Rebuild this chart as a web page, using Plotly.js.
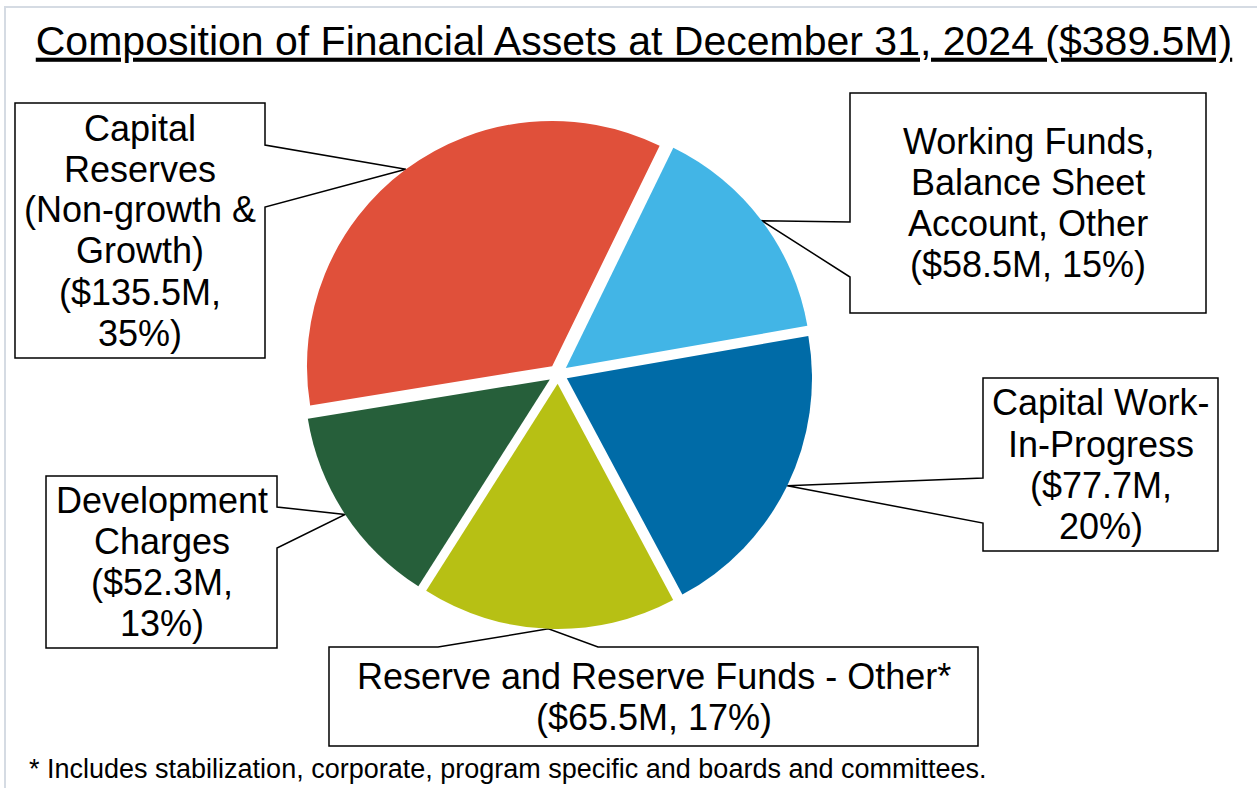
<!DOCTYPE html>
<html>
<head>
<meta charset="utf-8">
<script src="https://cdn.plot.ly/plotly-3.0.1.min.js"></script>
<style>html,body{margin:0;padding:0;background:#fff;}#chart{width:1257px;height:788px;}</style>
</head>
<body>
<div id="chart"></div>
<script>
// ---- data ----
const categories = [
  'Working Funds, Balance Sheet Account, Other',
  'Capital Work-In-Progress',
  'Reserve and Reserve Funds - Other*',
  'Development Charges',
  'Capital Reserves (Non-growth & Growth)'
];
// label text as shown in each callout (line breaks as in the reference)
const labelLines = [
  ['Working Funds,', 'Balance Sheet', 'Account, Other'],
  ['Capital Work-', 'In-Progress'],
  ['Reserve and Reserve Funds - Other*'],
  ['Development', 'Charges'],
  ['Capital', 'Reserves', '(Non-growth &', 'Growth)']
];
const valueBreak = [false, true, false, true, true]; // value and percent on separate lines
const valuesM = [58.5, 77.7, 65.5, 52.3, 135.5];
const colors = ['#42B5E6', '#006BA7', '#B7C014', '#265F3A', '#E0503A'];
const titleText = 'Composition of Financial Assets at December 31, 2024 ($389.5M)';
const footnote = '* Includes stabilization, corporate, program specific and boards and committees.';

// ---- layout constants ----
const W = 1257, H = 788;
const FONT = 'Liberation Sans, Arial, Helvetica, sans-serif';
const LABEL_SIZE = 36;
const LINE_STEP = 41;
const pieBox = {x0: 303, x1: 813, y0: 119, y1: 629}; // pixel box of pie domain
const PULL = 0.04;
const ROT = 26;
// callout boxes in pixels: side where the pointer attaches, and the two attach coordinates
const boxes = [
  {x0: 850, y0: 93,  x1: 1206, y1: 313, side: 'left',  a1: 222, a2: 277},
  {x0: 983, y0: 378, x1: 1218, y1: 551, side: 'left',  a1: 478, a2: 523},
  {x0: 329, y0: 647, x1: 978,  y1: 746, side: 'top',   a1: 438, a2: 598},
  {x0: 46,  y0: 476, x1: 277,  y1: 648, side: 'right', a1: 507, a2: 548},
  {x0: 15,  y0: 103, x1: 265,  y1: 358, side: 'right', a1: 145, a2: 207}
];

const total = valuesM.reduce((a, b) => a + b, 0);
const px = x => x / W;
const py = y => 1 - y / H;

// pie geometry, matching Plotly's pie sizing
const cx = (pieBox.x0 + pieBox.x1) / 2;
const cy = (pieBox.y0 + pieBox.y1) / 2;
const R = Math.min(pieBox.x1 - pieBox.x0, pieBox.y1 - pieBox.y0) / (2 + 2 * PULL);

const shapes = [];
const annotations = [];
let acc = 0;
valuesM.forEach((v, i) => {
  const mid = (ROT + (acc + v / 2) / total * 360) * Math.PI / 180;
  acc += v;
  const rr = R * (1 + PULL);
  const tx = cx + rr * Math.sin(mid);
  const ty = cy - rr * Math.cos(mid);
  const b = boxes[i];
  let pts;
  if (b.side === 'left') {
    pts = [[b.x0, b.y0], [b.x1, b.y0], [b.x1, b.y1], [b.x0, b.y1], [b.x0, b.a2], [tx, ty], [b.x0, b.a1]];
  } else if (b.side === 'right') {
    pts = [[b.x0, b.y0], [b.x1, b.y0], [b.x1, b.a1], [tx, ty], [b.x1, b.a2], [b.x1, b.y1], [b.x0, b.y1]];
  } else {
    pts = [[b.x0, b.y0], [b.a1, b.y0], [tx, ty], [b.a2, b.y0], [b.x1, b.y0], [b.x1, b.y1], [b.x0, b.y1]];
  }
  const path = pts.map((p, k) => (k ? 'L' : 'M') + px(p[0]).toFixed(5) + ',' + py(p[1]).toFixed(5)).join(' ') + ' Z';
  shapes.push({type: 'path', xref: 'paper', yref: 'paper', path: path, layer: 'below',
    line: {color: '#000', width: 1.5}, fillcolor: '#fff'});

  const pct = Math.round(v / total * 100);
  const valLines = valueBreak[i]
    ? ['($' + v.toFixed(1) + 'M,', pct + '%)']
    : ['($' + v.toFixed(1) + 'M, ' + pct + '%)'];
  const lines = labelLines[i].concat(valLines);
  const xc = (b.x0 + b.x1) / 2, yc = (b.y0 + b.y1) / 2;
  lines.forEach((ln, k) => {
    annotations.push({
      xref: 'paper', yref: 'paper',
      x: px(xc), y: py(yc + (k - (lines.length - 1) / 2) * LINE_STEP),
      xanchor: 'center', yanchor: 'middle', showarrow: false, align: 'center',
      text: ln,
      font: {family: FONT, size: LABEL_SIZE, color: '#000'}
    });
  });
});

annotations.push({
  xref: 'paper', yref: 'paper', x: px(27), y: py(769), xanchor: 'left', yanchor: 'middle',
  showarrow: false, text: footnote, font: {family: FONT, size: 27, color: '#000'}
});

// outer light frame
shapes.push({type: 'rect', xref: 'paper', yref: 'paper', x0: px(5), x1: px(1270), y0: py(7), y1: py(800),
  line: {color: '#D5DBE3', width: 2}, fillcolor: 'rgba(0,0,0,0)', layer: 'below'});

const trace = {
  type: 'pie',
  labels: categories,
  values: valuesM,
  sort: false,
  direction: 'clockwise',
  rotation: ROT,
  pull: PULL,
  marker: {colors: colors, line: {width: 0}},
  textinfo: 'none',
  hoverinfo: 'label+value+percent',
  showlegend: false,
  domain: {x: [px(pieBox.x0), px(pieBox.x1)], y: [py(pieBox.y1), py(pieBox.y0)]}
};

const layout = {
  width: W, height: H,
  margin: {l: 0, r: 0, t: 0, b: 0},
  paper_bgcolor: '#fff',
  showlegend: false,
  title: {
    text: titleText,
    x: px(634), xanchor: 'center',
    y: 1 - 26 / H, yanchor: 'top', yref: 'container',
    font: {family: FONT, size: 41, color: '#000', lineposition: 'under'}
  },
  shapes: shapes,
  annotations: annotations
};

Plotly.newPlot('chart', [trace], layout, {displayModeBar: false, staticPlot: true});
</script>
</body>
</html>
